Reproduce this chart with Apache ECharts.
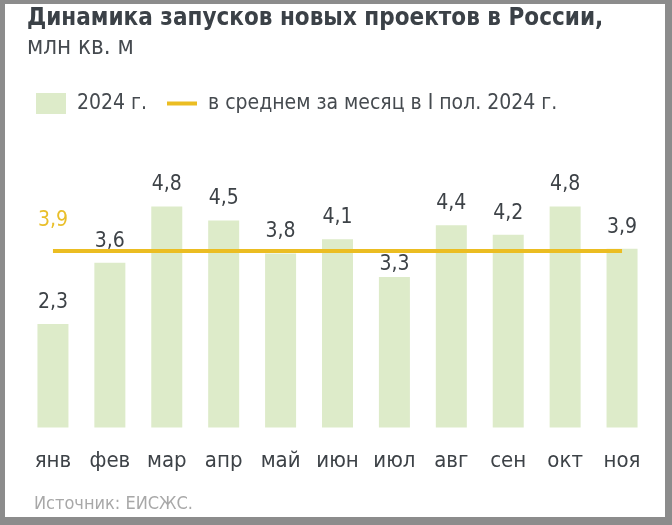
<!DOCTYPE html>
<html><head><meta charset="utf-8">
<script src="https://cdn.jsdelivr.net/npm/echarts@6/dist/echarts.min.js"></script>
<style>html,body{margin:0;padding:0;background:#8c8c8c;}#c{width:672px;height:525px;}</style>
</head><body><div id="c"></div>
<script>
const categories = ['янв','фев','мар','апр','май','июн','июл','авг','сен','окт','ноя'];
const values2024 = [2.3, 3.6, 4.8, 4.5, 3.8, 4.1, 3.3, 4.4, 4.2, 4.8, 3.9];
const avgH1 = 3.85;
const seriesNames = ['2024 г.', 'в среднем за месяц в I пол. 2024 г.'];
const titleText = 'Динамика запусков новых проектов в России,';
const subtitleText = 'млн кв. м';
const sourceText = 'Источник: ЕИСЖС.';

const FF = '"DejaVu Sans Condensed", "DejaVu Sans", sans-serif';
const fmt = v => (Math.round(v * 10) / 10).toFixed(1).replace('.', ',');
// labels that would collide with the average line are tucked closer to their bar
const barData = values2024.map(v => {
  const gap = avgH1 - v;
  return (gap > 0.3 && gap < 0.7) ? {value: v, label: {distance: 2}} : v;
});
const chart = echarts.init(document.getElementById('c'), null, {renderer: 'canvas'});
chart.setOption({
  backgroundColor: '#8c8c8c',
  animation: false,
  graphic: [
    {type: 'rect', z: -10, shape: {x: 5, y: 4, width: 660, height: 513}, style: {fill: '#ffffff'}},
    {type: 'text', left: 27, top: 7, style: {text: titleText, font: 'bold 24px ' + FF, fill: '#3b4147'}},
    {type: 'text', left: 27, top: 36, style: {text: subtitleText, font: '24px ' + FF, fill: '#454a4f'}},
    {type: 'text', left: 34, top: 495, style: {text: sourceText, font: '18px ' + FF, fill: '#a8a8a8'}}
  ],
  legend: {
    left: 36, top: 93, padding: 0, itemWidth: 30, itemHeight: 21, itemGap: 20,
    textStyle: {fontFamily: FF, fontSize: 21, color: '#454a4f', padding: [0, 0, 0, 6]},
    data: [
      {name: seriesNames[0], icon: 'rect'},
      {name: seriesNames[1], icon: 'path://M0,0M30,21M0,8.5H30V12.5H0Z'}
    ]
  },
  grid: {left: 24.5, right: 21.5, top: 197, bottom: 97.5},
  xAxis: {
    type: 'category', data: categories,
    axisLine: {show: false}, axisTick: {show: false},
    axisLabel: {fontFamily: FF, fontSize: 22, color: '#3d4247', margin: 23}
  },
  yAxis: {type: 'value', min: 0.1, max: 5, show: false, splitLine: {show: false}},
  series: [
    {
      name: seriesNames[0], type: 'bar', data: barData, barWidth: 31,
      itemStyle: {color: '#ddebc9'},
      label: {show: true, position: 'top', distance: 11, fontFamily: FF, fontSize: 21, color: '#3d4247',
        formatter: p => fmt(p.value)}
    },
    {
      name: seriesNames[1], type: 'line', symbol: 'none', z: 5,
      data: categories.map(() => avgH1),
      lineStyle: {color: '#ebbd22', width: 4},
      itemStyle: {color: '#ebbd22'},
      markPoint: {
        symbol: 'circle', symbolSize: 1, itemStyle: {color: 'rgba(0,0,0,0)'},
        label: {show: true, position: 'top', distance: 20, fontFamily: FF, fontSize: 21, color: '#e9bf2a',
          formatter: p => fmt(p.data.coord[1])},
        data: [{coord: [categories[0], avgH1]}]
      }
    }
  ]
});
</script></body></html>
